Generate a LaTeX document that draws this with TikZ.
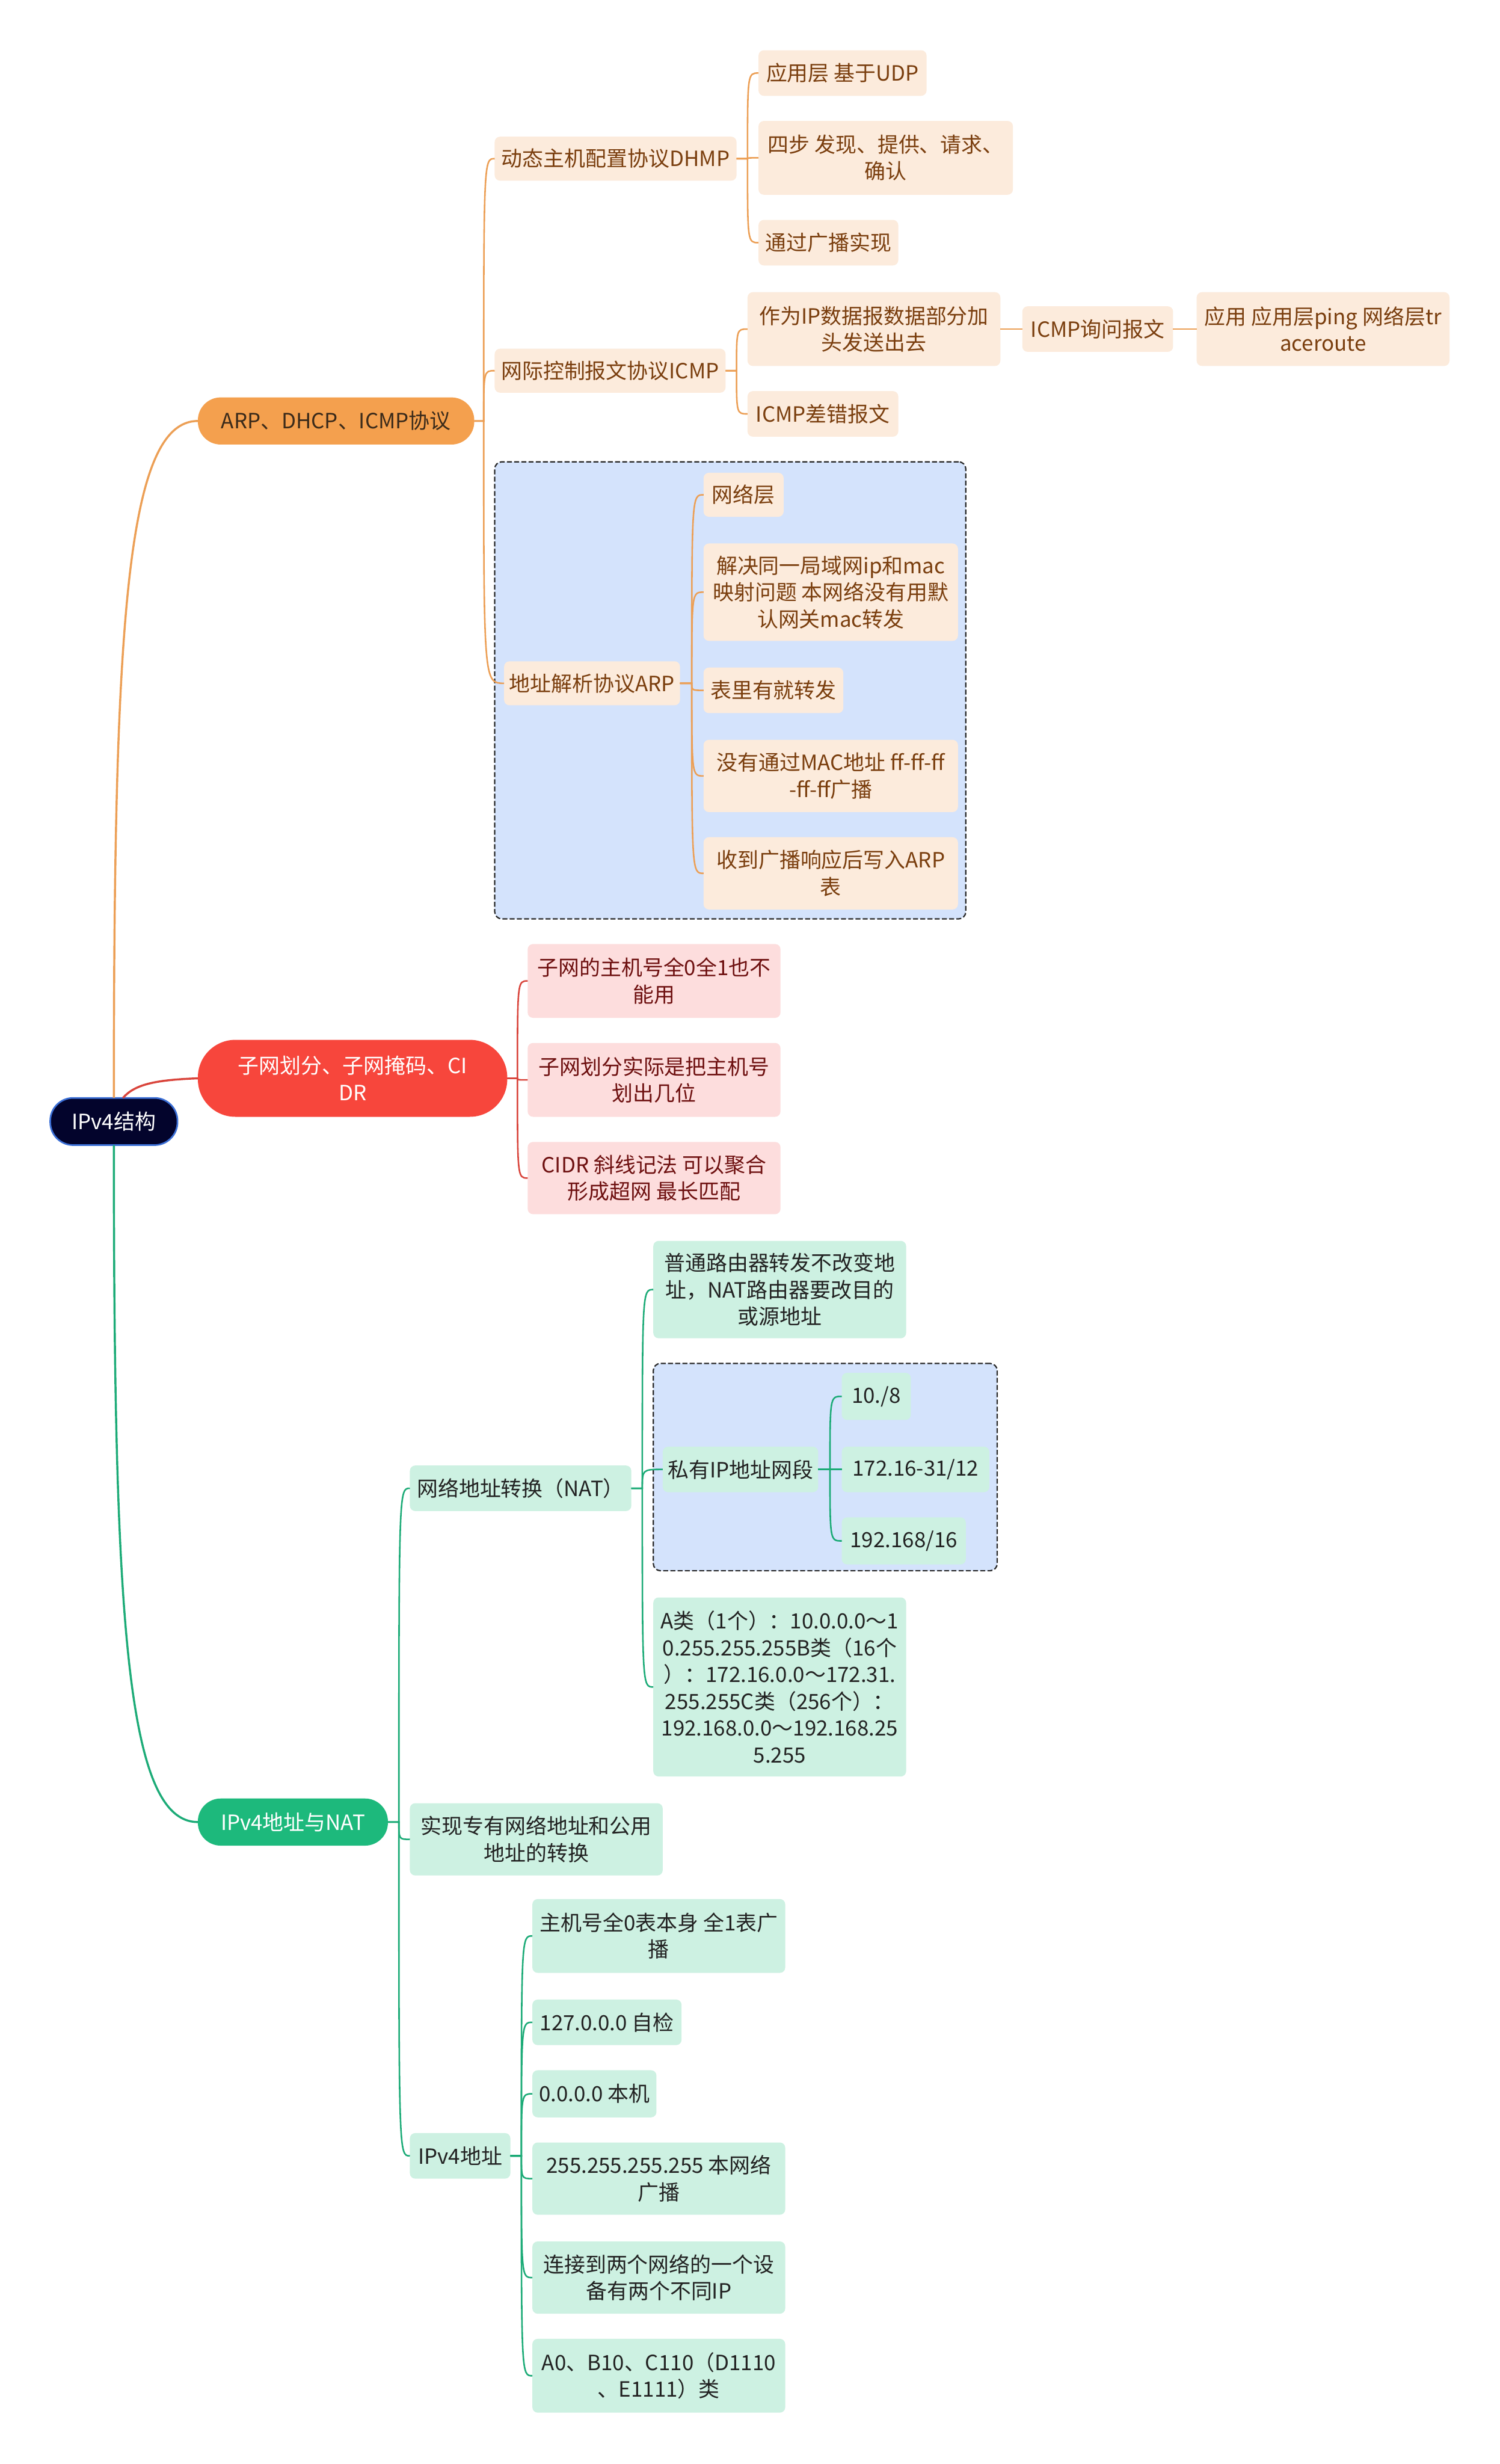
\documentclass[tikz,border=0pt]{standalone}
\usepackage{fontspec}
\setmainfont{Noto Sans CJK SC}
\definecolor{rootfill}{HTML}{03042C}
\definecolor{rootborder}{HTML}{3B6FD6}
\definecolor{orangeL}{HTML}{F4A04E}
\definecolor{orangeline}{HTML}{EC9F55}
\definecolor{orangetext}{HTML}{3A2A1A}
\definecolor{peach}{HTML}{FCEBDC}
\definecolor{peachtext}{HTML}{7A3E0E}
\definecolor{redL}{HTML}{F7463C}
\definecolor{redline}{HTML}{D9453C}
\definecolor{pinkbg}{HTML}{FDDDDD}
\definecolor{pinktext}{HTML}{6E1010}
\definecolor{greenL}{HTML}{1DB97C}
\definecolor{greenline}{HTML}{1CAB77}
\definecolor{mint}{HTML}{CDF1E2}
\definecolor{minttext}{HTML}{222222}
\definecolor{bluebox}{HTML}{D4E3FC}
\definecolor{dashcol}{HTML}{2B2B2B}
\newcommand\unitpx{0.026806cm}
\newcommand\bx[7]{%
  \node[#2, minimum width={(#4-#3)*\unitpx}, minimum height={(#6-#5)*\unitpx}] (#1) at ({(#3+#4)/2},{(#5+#6)/2}) {#7};}
\newcommand\cn[4]{%
  \path (#4,0) coordinate (mtmp);
  \draw[#1] (#2.east) -- (#2.east -| mtmp) .. controls (#3.west -| mtmp) and (#3.west -| mtmp) .. (#3.west);}
\tikzset{
  nbase/.style={inner sep=0pt, outer sep=0pt, align=center, font=\fontsize{10.2pt}{13pt}\selectfont, rounded corners=2.6pt},
  pnode/.style={nbase, fill=peach, text=peachtext},
  knode/.style={nbase, fill=pinkbg, text=pinktext},
  mnode/.style={nbase, fill=mint, text=minttext},
  rootnode/.style={nbase, fill=rootfill, draw=rootborder, line width=0.8pt, text=white, rounded corners=0.39cm},
  onode/.style={nbase, fill=orangeL, text=orangetext, rounded corners=0.39cm},
  rnode/.style={nbase, fill=redL, text=white, rounded corners=0.64cm},
  gnode/.style={nbase, fill=greenL, text=white, rounded corners=0.39cm},
  dbox/.style={fill=bluebox, draw=dashcol, line width=0.65pt, dash pattern=on 2.4pt off 1.1pt, rounded corners=3.5pt, inner sep=0pt, outer sep=0pt},
  oline/.style={draw=orangeline, line width=0.75pt},
  rline/.style={draw=redline, line width=0.75pt},
  gline/.style={draw=greenline, line width=0.75pt},
  oroot/.style={draw=orangeline, line width=1pt},
  rroot/.style={draw=redline, line width=1pt},
  groot/.style={draw=greenline, line width=1pt},
}
\begin{document}
\begin{tikzpicture}[x=\unitpx, y=-\unitpx]
\useasboundingbox[fill=white] (0,0) rectangle (955,1568.7);
% grouping boxes
\bx{boxarp}{dbox}{315}{615}{294}{585}{}
\bx{boxpriv}{dbox}{416}{635}{868}{1000}{}
% root and main branches
\bx{root}{rootnode}{32}{113}{699}{729}{IPv4结构}
\bx{La}{onode}{126}{302}{253}{283}{ARP、DHCP、ICMP协议}
\bx{Lb}{rnode}{126}{323}{662}{711}{子网划分、子网掩码、CI\\DR}
\bx{Lc}{gnode}{126}{247}{1145}{1175}{IPv4地址与NAT}
% orange subtree
\bx{o1}{pnode}{315}{469}{87}{115}{动态主机配置协议DHMP}
\bx{o11}{pnode}{483}{590}{32}{61}{应用层 基于UDP}
\bx{o12}{pnode}{483}{645}{77}{124}{四步 发现、提供、请求、\\确认}
\bx{o13}{pnode}{483}{572}{140}{169}{通过广播实现}
\bx{o2}{pnode}{315}{462}{222}{250}{网际控制报文协议ICMP}
\bx{o21}{pnode}{476}{637}{186}{233}{作为IP数据报数据部分加\\头发送出去}
\bx{o211}{pnode}{651}{747}{195}{224}{ICMP询问报文}
\bx{o2111}{pnode}{762}{923}{186}{233}{应用 应用层ping 网络层tr\\aceroute}
\bx{o22}{pnode}{476}{572}{249}{278}{ICMP差错报文}
\bx{o3}{pnode}{321}{433}{421}{449}{地址解析协议ARP}
\bx{o31}{pnode}{448}{499}{301}{329}{网络层}
\bx{o32}{pnode}{448}{610}{346}{408}{解决同一局域网ip和mac\\映射问题 本网络没有用默\\认网关mac转发}
\bx{o33}{pnode}{448}{537}{425}{454}{表里有就转发}
\bx{o34}{pnode}{448}{610}{471}{517}{没有通过MAC地址 ff-ff-ff\\-ff-ff广播}
\bx{o35}{pnode}{448}{610}{533}{579}{收到广播响应后写入ARP\\表}
% red subtree
\bx{r1}{knode}{336}{497}{601}{648}{子网的主机号全0全1也不\\能用}
\bx{r2}{knode}{336}{497}{664}{711}{子网划分实际是把主机号\\划出几位}
\bx{r3}{knode}{336}{497}{727}{773}{CIDR 斜线记法 可以聚合\\形成超网 最长匹配}
% green subtree
\bx{g1}{mnode}{261}{402}{933}{962}{网络地址转换（NAT）}
\bx{g11}{mnode}{416}{577}{790}{852}{普通路由器转发不改变地\\址，NAT路由器要改目的\\或源地址}
\bx{g12}{mnode}{422}{521}{921}{950}{私有IP地址网段}
\bx{g121}{mnode}{536}{580}{874}{904}{10./8}
\bx{g122}{mnode}{536}{630}{921}{950}{172.16-31/12}
\bx{g123}{mnode}{536}{615}{966}{996}{192.168/16}
\bx{g13}{mnode}{416}{577}{1017}{1131}{A类（1个）：10.0.0.0～1\\0.255.255.255B类（16个\\）：172.16.0.0～172.31.\\255.255C类（256个）：\\192.168.0.0～192.168.25\\5.255}
\bx{g2}{mnode}{261}{422}{1148}{1194}{实现专有网络地址和公用\\地址的转换}
\bx{g3}{mnode}{261}{325}{1358}{1387}{IPv4地址}
\bx{g31}{mnode}{339}{500}{1209}{1256}{主机号全0表本身 全1表广\\播}
\bx{g32}{mnode}{339}{434}{1273}{1302}{127.0.0.0 自检}
\bx{g33}{mnode}{339}{418}{1318}{1348}{0.0.0.0 本机}
\bx{g34}{mnode}{339}{500}{1364}{1410}{255.255.255.255 本网络\\广播}
\bx{g35}{mnode}{339}{500}{1427}{1473}{连接到两个网络的一个设\\备有两个不同IP}
\bx{g36}{mnode}{339}{500}{1489}{1536}{A0、B10、C110（D1110\\、E1111）类}
% root connectors
\draw[oroot] (root.north) .. controls (72.5,400) and (80,268) .. (La.west);
\draw[rroot] ([xshift=0.155cm]root.north) .. controls (86,690) and (100,687.5) .. (Lb.west);
\draw[groot] (root.south) .. controls (72.5,1028) and (80,1160) .. (Lc.west);
% orange connectors
\cn{oline}{La}{o1}{308}
\cn{oline}{La}{o2}{308}
\cn{oline}{La}{o3}{308}
\cn{oline}{o1}{o11}{476}
\cn{oline}{o1}{o12}{476}
\cn{oline}{o1}{o13}{476}
\cn{oline}{o2}{o21}{469}
\cn{oline}{o2}{o22}{469}
\draw[oline] (o21.east) -- (o211.west);
\draw[oline] (o211.east) -- (o2111.west);
\cn{oline}{o3}{o31}{440.5}
\cn{oline}{o3}{o32}{440.5}
\cn{oline}{o3}{o33}{440.5}
\cn{oline}{o3}{o34}{440.5}
\cn{oline}{o3}{o35}{440.5}
% red connectors
\cn{rline}{Lb}{r1}{329.5}
\cn{rline}{Lb}{r2}{329.5}
\cn{rline}{Lb}{r3}{329.5}
% green connectors
\cn{gline}{Lc}{g1}{254}
\cn{gline}{Lc}{g2}{254}
\cn{gline}{Lc}{g3}{254}
\cn{gline}{g1}{g11}{409}
\cn{gline}{g1}{g12}{409}
\cn{gline}{g1}{g13}{409}
\cn{gline}{g12}{g121}{528.5}
\cn{gline}{g12}{g122}{528.5}
\cn{gline}{g12}{g123}{528.5}
\cn{gline}{g3}{g31}{332}
\cn{gline}{g3}{g32}{332}
\cn{gline}{g3}{g33}{332}
\cn{gline}{g3}{g34}{332}
\cn{gline}{g3}{g35}{332}
\cn{gline}{g3}{g36}{332}
\end{tikzpicture}
\end{document}
